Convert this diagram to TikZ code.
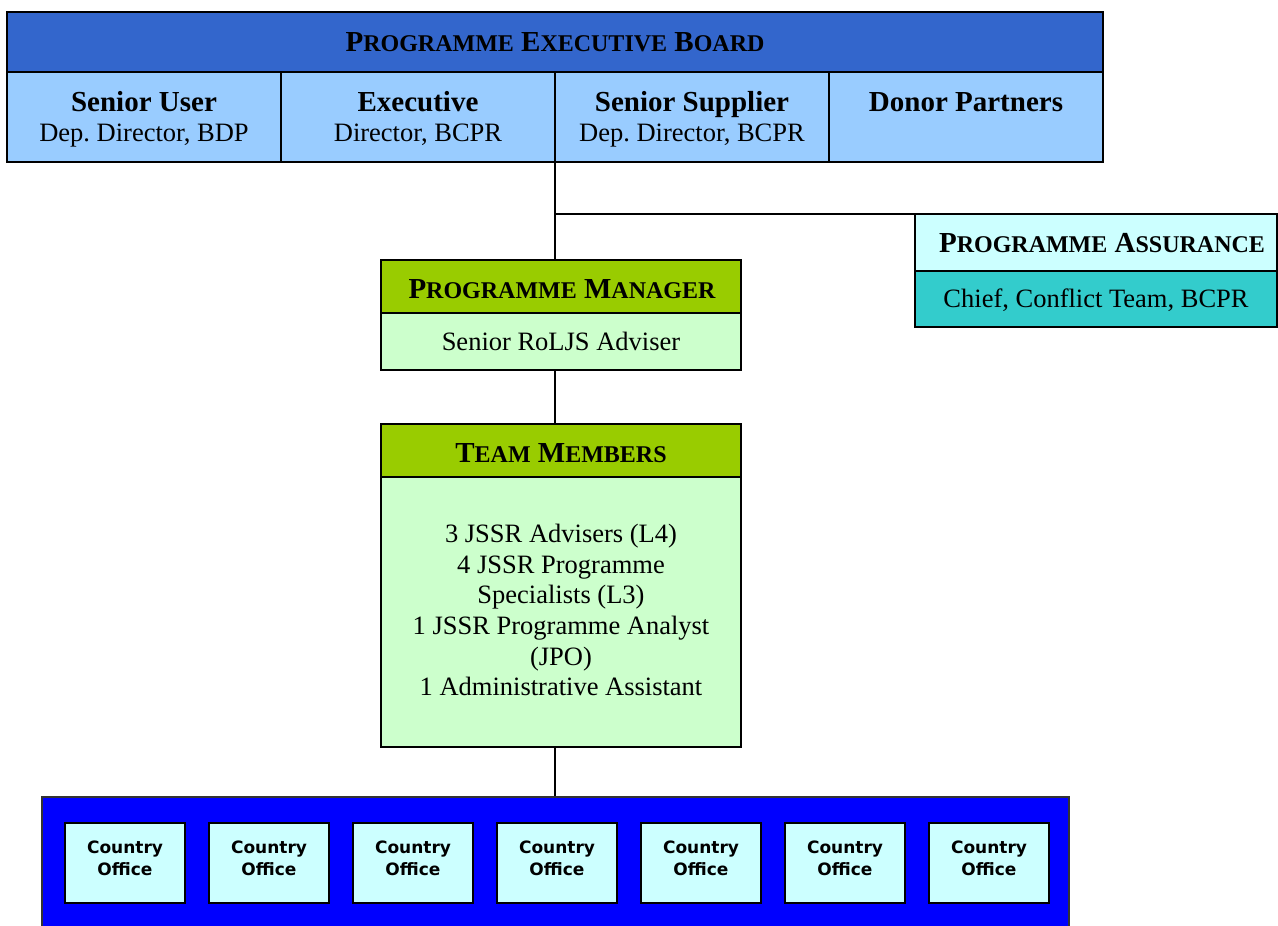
\documentclass[tikz,border=0pt]{standalone}
\usepackage{fontspec}
\setmainfont{Liberation Serif}
\newfontfamily\vfont{DejaVu Sans}
\definecolor{hdrblue}{HTML}{3366CC}
\definecolor{cellblue}{HTML}{99CCFF}
\definecolor{pmgreen}{HTML}{99CC00}
\definecolor{lgreen}{HTML}{CCFFCC}
\definecolor{lcyan}{HTML}{CCFFFF}
\definecolor{teal2}{HTML}{33CCCC}
\definecolor{cblue}{HTML}{0000FF}
\newcommand\scw[2]{{\fontsize{29}{34}\selectfont #1}{\fontsize{24}{34}\selectfont #2}}
\frenchspacing
\begin{document}
\begin{tikzpicture}[x=1pt,y=-1pt,
  box/.style={draw=black, line width=2pt, inner sep=0pt, outer sep=0pt},
  ttl/.style={anchor=base, inner sep=0pt, font=\bfseries\fontsize{29}{34}\selectfont},
  sub/.style={anchor=base, inner sep=0pt, font=\fontsize{26.5}{31}\selectfont},
  cotxt/.style={anchor=base, inner sep=0pt, font=\vfont\bfseries\fontsize{17}{20}\selectfont},
  conn/.style={draw=black, line width=2pt}]
\useasboundingbox (0,0) rectangle (1278,926);
\begin{scope}
\clip (0,0) rectangle (1278,926);
% board
\node[box, fill=hdrblue, minimum width=1096pt, minimum height=60pt] (peb) at (555,42) {};
\node[box, fill=cellblue, minimum width=274pt, minimum height=90pt] (su) at (144,117) {};
\node[box, fill=cellblue, minimum width=274pt, minimum height=90pt] (ex) at (418,117) {};
\node[box, fill=cellblue, minimum width=274pt, minimum height=90pt] (ss) at (692,117) {};
\node[box, fill=cellblue, minimum width=274pt, minimum height=90pt] (dp) at (966,117) {};
\node[ttl] (pebt) at (555,51) {\scw{P}{ROGRAMME} \scw{E}{XECUTIVE} \scw{B}{OARD}};
\node[ttl] (sut) at (144,111) {Senior User};
\node[sub] (sus) at (144,141) {Dep. Director, BDP};
\node[ttl] (ext) at (418,111) {Executive};
\node[sub] (exs) at (418,141) {Director, BCPR};
\node[ttl] (sst) at (692,111) {Senior Supplier};
\node[sub] (sss) at (692,141) {Dep. Director, BCPR};
\node[ttl] (dpt) at (966,111) {Donor Partners};
% assurance
\node[box, fill=lcyan, minimum width=362pt, minimum height=57pt] (pa) at (1096,242.5) {};
\node[box, fill=teal2, minimum width=362pt, minimum height=56pt] (pab) at (1096,299) {};
\node[ttl] (pat) at (1102,252) {\scw{P}{ROGRAMME} \scw{A}{SSURANCE}};
\node[sub] (pas) at (1096,307) {Chief, Conflict Team, BCPR};
% manager
\node[box, fill=pmgreen, minimum width=360pt, minimum height=53pt] (pm) at (561,286.5) {};
\node[box, fill=lgreen, minimum width=360pt, minimum height=57pt] (pmb) at (561,341.5) {};
\node[ttl] (pmt) at (562,298) {\scw{P}{ROGRAMME} \scw{M}{ANAGER}};
\node[sub] (pms) at (561,350) {Senior RoLJS Adviser};
% team
\node[box, fill=pmgreen, minimum width=360pt, minimum height=53pt] (tm) at (561,450.5) {};
\node[box, fill=lgreen, minimum width=360pt, minimum height=270pt] (tmb) at (561,612) {};
\node[ttl] (tmt) at (561,462) {\scw{T}{EAM} \scw{M}{EMBERS}};
\foreach \t [count=\i] in {3 JSSR Advisers (L4), 4 JSSR Programme, Specialists (L3), 1 JSSR Programme Analyst, (JPO), 1 Administrative Assistant}
  \node[sub] (tml\i) at (561,542.7+30.6*\i-30.6) {\t};
% country offices
\node[draw=black!80, line width=1.5pt, fill=cblue, minimum width=1027pt, minimum height=140pt, inner sep=0pt] (co) at (555.5,867) {};
\foreach \i in {0,...,6}{
  \node[box, line width=1.6pt, fill=lcyan, minimum width=120pt, minimum height=80pt] (o\i) at (125+144*\i,863) {};
  \node[cotxt] (oa\i) at (125+144*\i,853.3) {Country};
  \node[cotxt] (ob\i) at (125+144*\i,875) {Office};
}
% connectors
\coordinate (br) at (ex.south east |- pa.north west);
\draw[conn] (ex.south east) -- (ex.south east |- pm.north);
\draw[conn] (br) -- (pa.north west);
\draw[conn] (ex.south east |- pmb.south) -- (ex.south east |- tm.north);
\draw[conn] (ex.south east |- tmb.south) -- (ex.south east |- co.north);
\end{scope}
\end{tikzpicture}
\end{document}
